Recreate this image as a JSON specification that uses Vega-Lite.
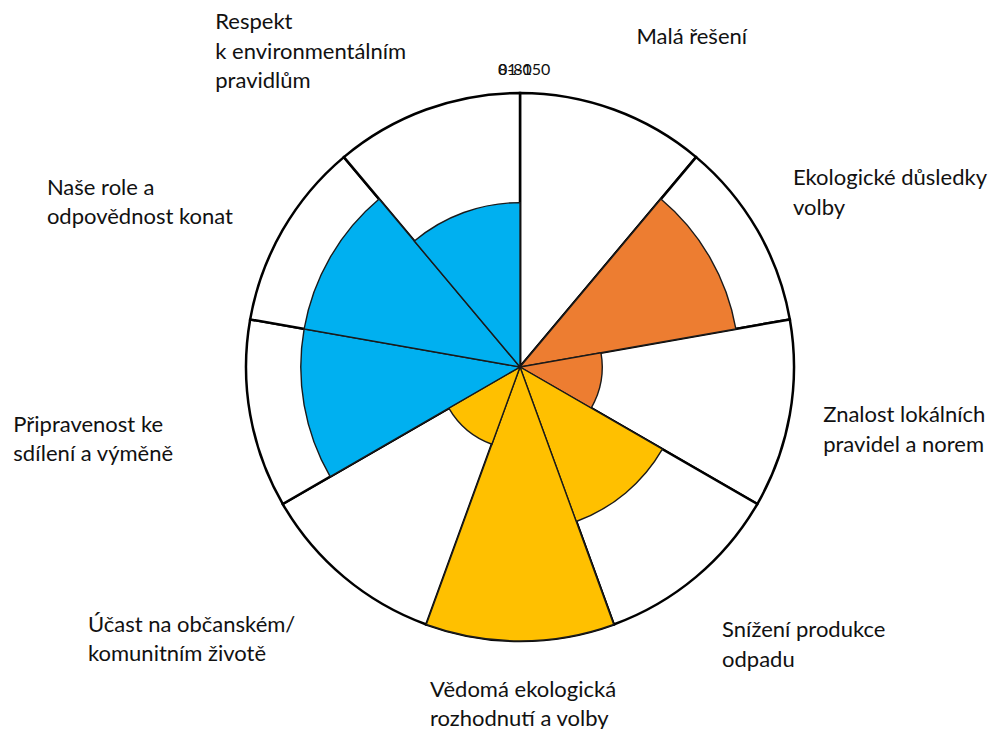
{
  "$schema": "https://vega.github.io/schema/vega-lite/v6.json",
  "width": 942,
  "height": 724,
  "autosize": {"type": "none"},
  "padding": {"left": 49, "top": 5, "right": 0, "bottom": 0},
  "background": "white",
  "config": {"view": {"stroke": null}, "font": "Lato", "text": {"fontSize": 22, "lineHeight": 29.5, "lineBreak": "\n", "align": "left", "baseline": "middle", "color": "#111111"}},
  "datasets": {
    "cats": [
      {"i": 0, "label": "Malá řešení", "v": 0, "g": "A"},
      {"i": 1, "label": "Ekologické důsledky\nvolby", "v": 4, "g": "A"},
      {"i": 2, "label": "Znalost lokálních\npravidel a norem", "v": 1.5, "g": "A"},
      {"i": 3, "label": "Snížení produkce\nodpadu", "v": 3, "g": "B"},
      {"i": 4, "label": "Vědomá ekologická\nrozhodnutí a volby", "v": 5, "g": "B"},
      {"i": 5, "label": "Účast na občanském/\nkomunitním životě", "v": 1.5, "g": "B"},
      {"i": 6, "label": "Připravenost ke\nsdílení a výměně", "v": 4, "g": "C"},
      {"i": 7, "label": "Naše role a\nodpovědnost konat", "v": 4, "g": "C"},
      {"i": 8, "label": "Respekt\nk environmentálním\npravidlům", "v": 3, "g": "C"}
    ],
    "ticks": [{"t": "0-80"}, {"t": "81-150"}]
  },
  "layer": [
    {
      "data": {"name": "cats"},
      "mark": {"type": "arc", "fill": "white", "stroke": "black", "strokeWidth": 2.5},
      "encoding": {
        "theta": {"aggregate": "count", "type": "quantitative", "stack": true, "scale": {"domain": [0, 9]}},
        "order": {"field": "i", "type": "quantitative"},
        "radius": {"datum": 5, "type": "quantitative", "scale": {"type": "linear", "domain": [0, 5], "range": [0, 274], "zero": true}}
      }
    },
    {
      "data": {"name": "cats"},
      "transform": [
        {"window": [{"op": "row_number", "as": "rn"}], "sort": [{"field": "i", "order": "ascending"}]}
      ],
      "mark": {"type": "arc", "stroke": "#1a1a1a", "strokeWidth": 1.4},
      "encoding": {
        "theta": {"field": "i", "type": "quantitative", "stack": null, "scale": {"domain": [0, 9]}},
        "theta2": {"field": "rn"},
        "radius": {"field": "v", "type": "quantitative", "stack": null, "scale": {"type": "linear", "domain": [0, 5], "range": [0, 274], "zero": true}},
        "color": {"field": "g", "type": "nominal", "scale": {"domain": ["A", "B", "C"], "range": ["#ED7D31", "#FFC000", "#00B0F0"]}, "legend": null}
      }
    },
    {
      "data": {"name": "cats"},
      "encoding": {
        "theta": {"aggregate": "count", "type": "quantitative", "stack": true, "scale": {"domain": [0, 9]}},
        "order": {"field": "i", "type": "quantitative"}
      },
      "layer": [
        {"mark": {"type": "text", "thetaOffset": -0.01}, "encoding": {"radius": {"value": 350}, "text": {"condition": {"test": "datum.i == 0", "field": "label"}, "value": ""}}},
        {"mark": {"type": "text", "thetaOffset": -0.082}, "encoding": {"radius": {"value": 332}, "text": {"condition": {"test": "datum.i == 1", "field": "label"}, "value": ""}}},
        {"mark": {"type": "text", "thetaOffset": -0.017}, "encoding": {"radius": {"value": 307}, "text": {"condition": {"test": "datum.i == 2", "field": "label"}, "value": ""}}},
        {"mark": {"type": "text", "thetaOffset": 0.044}, "encoding": {"radius": {"value": 332}, "text": {"condition": {"test": "datum.i == 3", "field": "label"}, "value": ""}}},
        {"mark": {"type": "text", "thetaOffset": 0.272}, "encoding": {"radius": {"value": 335}, "text": {"condition": {"test": "datum.i == 4", "field": "label"}, "value": ""}}},
        {"mark": {"type": "text", "thetaOffset": 0.335}, "encoding": {"radius": {"value": 503}, "text": {"condition": {"test": "datum.i == 5", "field": "label"}, "value": ""}}},
        {"mark": {"type": "text", "thetaOffset": 0.061}, "encoding": {"radius": {"value": 510}, "text": {"condition": {"test": "datum.i == 6", "field": "label"}, "value": ""}}},
        {"mark": {"type": "text", "thetaOffset": -0.161}, "encoding": {"radius": {"value": 506}, "text": {"condition": {"test": "datum.i == 7", "field": "label"}, "value": ""}}},
        {"mark": {"type": "text", "thetaOffset": -0.375}, "encoding": {"radius": {"value": 460}, "text": {"condition": {"test": "datum.i == 8", "field": "label"}, "value": ""}}}
      ]
    },
    {
      "data": {"name": "ticks"},
      "mark": {"type": "text", "fontSize": 16, "dx": -22},
      "encoding": {
        "theta": {"value": 0},
        "radius": {"value": 297},
        "text": {"field": "t"}
      }
    }
  ]
}
